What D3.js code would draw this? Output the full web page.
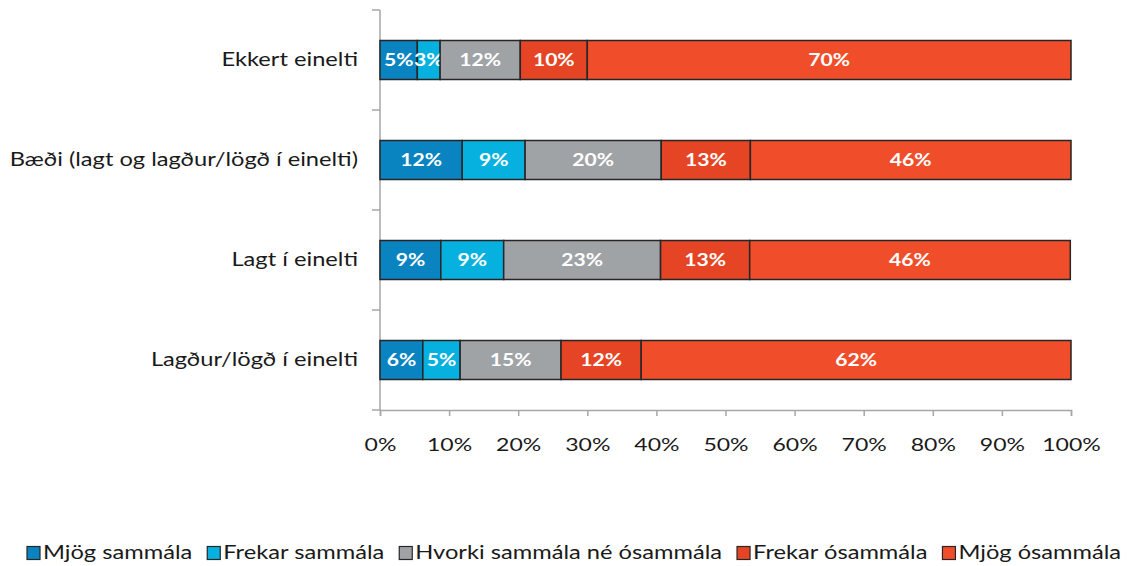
<!DOCTYPE html>
<html>
<head>
<meta charset="utf-8">
<script src="https://cdn.jsdelivr.net/npm/d3@7"></script>
<style>
  body { margin: 0; background: #fff; }
  svg { font-family: Lato, "Open Sans", sans-serif; }
</style>
</head>
<body>
<script>
const categories = ['Ekkert einelti', 'Bæði (lagt og lagður/lögð í einelti)', 'Lagt í einelti', 'Lagður/lögð í einelti'];
const seriesNames = ['Mjög sammála', 'Frekar sammála', 'Hvorki sammála né ósammála', 'Frekar ósammála', 'Mjög ósammála'];
const mjogSammala = [5.4, 11.9, 8.8, 6.2];
const frekarSammala = [3.3, 9.1, 9.1, 5.4];
const hvorki = [11.6, 19.7, 22.7, 14.6];
const frekarOsammala = [9.7, 12.9, 12.9, 11.6];
const mjogOsammala = [70.0, 46.4, 46.4, 62.2];
const tickLabels = ['0%', '10%', '20%', '30%', '40%', '50%', '60%', '70%', '80%', '90%', '100%'];
const colors = ['#0a83c1', '#06b1e0', '#a0a3a6', '#e54524', '#f04e2b'];

const width = 1132, height = 566;
const margin = { top: 10, left: 380, right: 61, bottom: 156 };
const innerWidth = width - margin.left - margin.right;
const innerHeight = height - margin.top - margin.bottom;
const sx = 1.28; // the reference text is drawn wide

const values = [mjogSammala, frekarSammala, hvorki, frekarOsammala, mjogOsammala];
const rows = categories.map((c, i) => {
  const r = { cat: c };
  seriesNames.forEach((s, j) => r[s] = values[j][i]);
  return r;
});
const stacked = d3.stack().keys(seriesNames)(rows);

const svg = d3.select('body').append('svg')
  .attr('width', width)
  .attr('height', height);

const chart = svg.append('g')
  .attr('transform', `translate(${margin.left},${margin.top})`);

const x = d3.scaleLinear().domain([0, 100]).range([0, innerWidth]);
const y = d3.scaleBand().domain(categories).range([0, innerHeight]).paddingInner(0.61).paddingOuter(0.305);

// y axis: line with ticks between categories
const yAxis = chart.append('g');
yAxis.append('line')
  .attr('x1', 0).attr('x2', 0).attr('y1', 0).attr('y2', innerHeight)
  .attr('stroke', '#a6a6a6').attr('stroke-width', 1.5);
d3.range(categories.length + 1).forEach(i => {
  const yy = i * y.step();
  yAxis.append('line')
    .attr('x1', -8).attr('x2', 0).attr('y1', yy).attr('y2', yy)
    .attr('stroke', '#a6a6a6').attr('stroke-width', 1.5);
});
yAxis.selectAll('text.cat')
  .data(categories)
  .enter()
  .append('text')
  .attr('class', 'cat')
  .attr('transform', d => `translate(-22,${y(d) + y.bandwidth() / 2}) scale(${sx},1)`)
  .attr('dy', '0.35em')
  .attr('text-anchor', 'end')
  .attr('font-size', '18.5px')
  .attr('fill', '#1a1a1a')
  .text(d => d);

// x axis
const xAxis = chart.append('g')
  .attr('transform', `translate(0,${innerHeight})`)
  .call(d3.axisBottom(x).tickValues(d3.range(0, 101, 10)).tickSize(6).tickPadding(22)
    .tickFormat((d, i) => tickLabels[i]));
xAxis.select('.domain').attr('stroke', '#a6a6a6').attr('stroke-width', 1.5);
xAxis.selectAll('.tick line').attr('stroke', '#a6a6a6').attr('stroke-width', 1.5);
xAxis.selectAll('.tick text')
  .attr('transform', `scale(${sx},1)`)
  .attr('font-size', '18px')
  .attr('fill', '#1a1a1a')
  .attr('font-family', 'Lato, sans-serif');

// bars
stacked.forEach((layer, j) => {
  const g = chart.append('g');
  g.selectAll('rect')
    .data(layer)
    .enter()
    .append('rect')
    .attr('x', d => x(d[0]))
    .attr('y', d => y(d.data.cat))
    .attr('width', d => x(d[1]) - x(d[0]))
    .attr('height', y.bandwidth())
    .attr('fill', colors[j])
    .attr('stroke', '#262626')
    .attr('stroke-width', 1.5);
  g.selectAll('text')
    .data(layer)
    .enter()
    .append('text')
    .attr('transform', d => `translate(${(x(d[0]) + x(d[1])) / 2},${y(d.data.cat) + y.bandwidth() / 2}) scale(${sx},1)`)
    .attr('dy', '0.35em')
    .attr('text-anchor', 'middle')
    .attr('font-size', '16.5px')
    .attr('font-weight', 'bold')
    .attr('fill', '#fff')
    .text(d => Math.round(d[1] - d[0]) + '%');
});

// legend, laid out one item after another
const legend = svg.append('g').attr('transform', 'translate(0,553)');
let lx = 27;
seriesNames.forEach((s, i) => {
  const item = legend.append('g').attr('transform', `translate(${lx},0)`);
  item.append('rect')
    .attr('x', 0).attr('y', -6.5)
    .attr('width', 13).attr('height', 13)
    .attr('fill', colors[i])
    .attr('stroke', '#262626')
    .attr('stroke-width', 1.2);
  const t = item.append('text')
    .attr('transform', `translate(16,0) scale(${sx},1)`)
    .attr('dy', '0.35em')
    .attr('font-size', '18.5px')
    .attr('fill', '#1a1a1a')
    .text(s);
  lx += 16 + t.node().getComputedTextLength() * sx + 15;
});
</script>
</body>
</html>
